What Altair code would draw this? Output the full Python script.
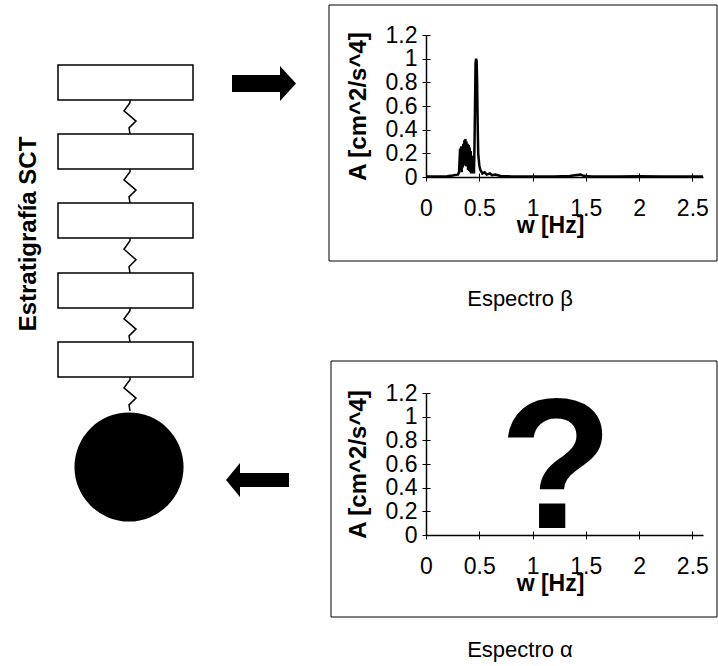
import altair as alt
import pandas as pd

# ---------------- data ----------------
# Espectro beta
w_beta = [0.00, 0.10, 0.20, 0.25, 0.28, 0.30, 0.31, 0.32, 0.325, 0.33, 0.335, 0.34,
          0.345, 0.35, 0.355, 0.36, 0.365, 0.37, 0.375, 0.38, 0.385, 0.39, 0.395,
          0.40, 0.405, 0.41, 0.415, 0.42, 0.425, 0.43, 0.435, 0.44, 0.45, 0.455,
          0.46, 0.465, 0.47, 0.475, 0.48, 0.485, 0.49, 0.50, 0.51, 0.53, 0.55,
          0.57, 0.60, 0.62, 0.65, 0.70, 0.80, 1.00, 1.20, 1.35, 1.40, 1.45, 1.48,
          1.55, 1.80, 2.00, 2.20, 2.40, 2.60]
a_beta = [0.005, 0.004, 0.006, 0.012, 0.018, 0.02, 0.04, 0.24, 0.06, 0.26, 0.04, 0.22,
          0.08, 0.28, 0.10, 0.31, 0.12, 0.32, 0.09, 0.30, 0.14, 0.28, 0.06,
          0.27, 0.05, 0.25, 0.04, 0.22, 0.03, 0.18, 0.03, 0.10, 0.03, 0.25,
          0.60, 0.96, 1.00, 0.98, 0.80, 0.45, 0.20, 0.10, 0.06, 0.03, 0.04,
          0.02, 0.03, 0.015, 0.02, 0.008, 0.005, 0.004, 0.004, 0.008, 0.015, 0.02, 0.01,
          0.005, 0.004, 0.006, 0.004, 0.004, 0.004]

x_ticks = [0, 0.5, 1, 1.5, 2, 2.5]
y_ticks = [0, 0.2, 0.4, 0.6, 0.8, 1, 1.2]

# "?" placed in the alpha spectrum panel (data units)
question_w = [1.22]
question_a = [0.06]

# stratigraphy diagram (canvas units)
layer_tops = [65, 134, 203, 273, 342]
layer_h = 35
layer_left, layer_right = 58, 193
spring_x = 130
spring_dx = [0, 0, -6, 6, -1, 0]
spring_frac = [0, 0.08, 0.32, 0.62, 0.82, 1.0]
ball_center = [129, 467]
ball_top = 411

FONT = "Liberation Sans"

# ---------------- scales ----------------
CX = alt.Scale(domain=[0, 718], range=[0, 718], nice=False, zero=False)
CY = alt.Scale(domain=[0, 666], range=[0, 666], nice=False, zero=False)


def cx(f):
    return alt.X(f, type="quantitative", scale=CX, axis=None)


def cy(f):
    return alt.Y(f, type="quantitative", scale=CY, axis=None)


# ---------------- diagram layers ----------------
boxes = pd.DataFrame({"x": [layer_left] * 5, "x2": [layer_right] * 5,
                      "y": layer_tops, "y2": [t + layer_h for t in layer_tops]})
box_layer = alt.Chart(boxes).mark_rect(fill="white", stroke="black", strokeWidth=1.5).encode(
    x=cx("x"), x2="x2:Q", y=cy("y"), y2="y2:Q")

# springs
rows = []
ends = [t + layer_h for t in layer_tops]
starts = layer_tops[1:] + [ball_top]
for k, (b, t) in enumerate(zip(ends, starts)):
    for i, (dx, fr) in enumerate(zip(spring_dx, spring_frac)):
        rows.append({"s": k, "i": i, "x": spring_x + dx, "y": b + fr * (t - b)})
springs = pd.DataFrame(rows)
spring_layer = alt.Chart(springs).mark_line(color="black", strokeWidth=1.5).encode(
    x=cx("x"), y=cy("y"), detail="s:N", order="i:Q")

ball = pd.DataFrame({"x": [ball_center[0]], "y": [ball_center[1]]})
ball_layer = alt.Chart(ball).mark_circle(color="black", opacity=1, size=11900).encode(
    x=cx("x"), y=cy("y"))

# arrows
arrow_bodies = pd.DataFrame({"x": [232, 240], "x2": [281, 289], "y": [75, 473], "y2": [92, 487]})
arrow_body_layer = alt.Chart(arrow_bodies).mark_rect(color="black").encode(
    x=cx("x"), x2="x2:Q", y=cy("y"), y2="y2:Q")
head_r = pd.DataFrame({"x": [288], "y": [83.5]})
head_r_layer = alt.Chart(head_r).mark_point(
    shape="M -0.457 -1 L 0.457 0 L -0.457 1 Z", filled=True, color="black",
    opacity=1, size=1225, strokeWidth=0).encode(x=cx("x"), y=cy("y"))
head_l = pd.DataFrame({"x": [233], "y": [480]})
head_l_layer = alt.Chart(head_l).mark_point(
    shape="M 0.41 -1 L -0.41 0 L 0.41 1 Z", filled=True, color="black",
    opacity=1, size=1156, strokeWidth=0).encode(x=cx("x"), y=cy("y"))

strat_label = pd.DataFrame({"x": [29], "y": [234], "t": ["Estratigrafía SCT"]})
strat_layer = alt.Chart(strat_label).mark_text(
    angle=270, font=FONT, fontSize=24, fontWeight="bold", color="black",
    align="center", baseline="middle").encode(x=cx("x"), y=cy("y"), text="t:N")

# panel frames and captions
frames = pd.DataFrame({"x": [329, 331], "x2": [717, 717], "y": [5, 361], "y2": [261, 617]})
frame_layer = alt.Chart(frames).mark_rect(fill=None, stroke="black", strokeWidth=1).encode(
    x=cx("x"), x2="x2:Q", y=cy("y"), y2="y2:Q")
captions = pd.DataFrame({"x": [520, 520], "y": [299, 650], "t": ["Espectro β", "Espectro α"]})
caption_layer = alt.Chart(captions).mark_text(
    font=FONT, fontSize=22, color="black", align="center", baseline="middle").encode(
    x=cx("x"), y=cy("y"), text="t:N")


# ---------------- spectrum panels ----------------
def x_axis(y0):
    return alt.Axis(orient="bottom", offset=y0 - 666, values=x_ticks, format="~g",
                    grid=False, domainColor="black", domainWidth=1.5, tickColor="black",
                    tickSize=4, tickWidth=1, labelFont=FONT, labelFontSize=23,
                    labelColor="black", labelPadding=16, labelFlush=False,
                    labelOverlap=False, title="w [Hz]", titleFont=FONT,
                    titleFontSize=23, titleFontWeight="bold", titleColor="black",
                    titleX=550, titleY=48, titleAlign="center", titleBaseline="middle",
                    titleAngle=0)


def y_axis(ymid):
    return alt.Axis(orient="left", offset=-426, values=y_ticks, format="~g",
                    grid=False, domainColor="black", domainWidth=1.5, tickColor="black",
                    tickSize=4, tickWidth=1, labelFont=FONT, labelFontSize=23,
                    labelColor="black", labelPadding=5, labelFlush=False,
                    labelOverlap=False, title="A [cm^2/s^4]", titleFont=FONT,
                    titleFontSize=24, titleFontWeight="bold", titleColor="black",
                    titleX=-68, titleY=ymid, titleAngle=270, titleAlign="center",
                    titleBaseline="middle")


def tick_axes(y0):
    xa = alt.Axis(orient="top", offset=-y0, values=x_ticks, labels=False, domain=False,
                  grid=False, tickColor="black", tickSize=4, title=None)
    ya = alt.Axis(orient="right", offset=426 - 718, values=y_ticks, labels=False,
                  domain=False, grid=False, tickColor="black", tickSize=4, title=None)
    return xa, ya


def xs():
    return alt.Scale(domain=[0, 2.6], range=[426, 703], nice=False, zero=False)


def ys(y0, y1):
    return alt.Scale(domain=[0, 1.2], range=[y0, y1], nice=False, zero=False)


beta = pd.DataFrame({"w": w_beta, "a": a_beta})
beta_layer = alt.Chart(beta).mark_line(color="black", strokeWidth=2.5).encode(
    x=alt.X("w:Q", scale=xs(), axis=x_axis(177)),
    y=alt.Y("a:Q", scale=ys(177, 35), axis=y_axis(106)))
xa, ya = tick_axes(177)
beta_ticks = alt.Chart(beta).mark_line(opacity=0).encode(
    x=alt.X("w:Q", scale=xs(), axis=xa), y=alt.Y("a:Q", scale=ys(177, 35), axis=ya))

q = pd.DataFrame({"w": question_w, "a": question_a, "t": ["?"]})
alpha_layer = alt.Chart(q).mark_text(
    font=FONT, fontSize=186, fontWeight="bold", color="black", align="center",
    baseline="alphabetic").encode(
    x=alt.X("w:Q", scale=xs(), axis=x_axis(535)),
    y=alt.Y("a:Q", scale=ys(535, 393), axis=y_axis(464)), text="t:N")
xa2, ya2 = tick_axes(535)
alpha_ticks = alt.Chart(q).mark_point(opacity=0).encode(
    x=alt.X("w:Q", scale=xs(), axis=xa2), y=alt.Y("a:Q", scale=ys(535, 393), axis=ya2))

chart = alt.layer(
    frame_layer, caption_layer, box_layer, spring_layer, ball_layer,
    arrow_body_layer, head_r_layer, head_l_layer, strat_layer,
    beta_layer, beta_ticks, alpha_layer, alpha_ticks
).resolve_scale(x="independent", y="independent").resolve_axis(
    x="independent", y="independent"
).properties(
    width=718, height=666, padding=0,
    autosize=alt.AutoSizeParams(type="none"), background="white"
).configure_view(stroke=None)

chart.save("out.html", embed_options={"renderer": "svg", "actions": False})
